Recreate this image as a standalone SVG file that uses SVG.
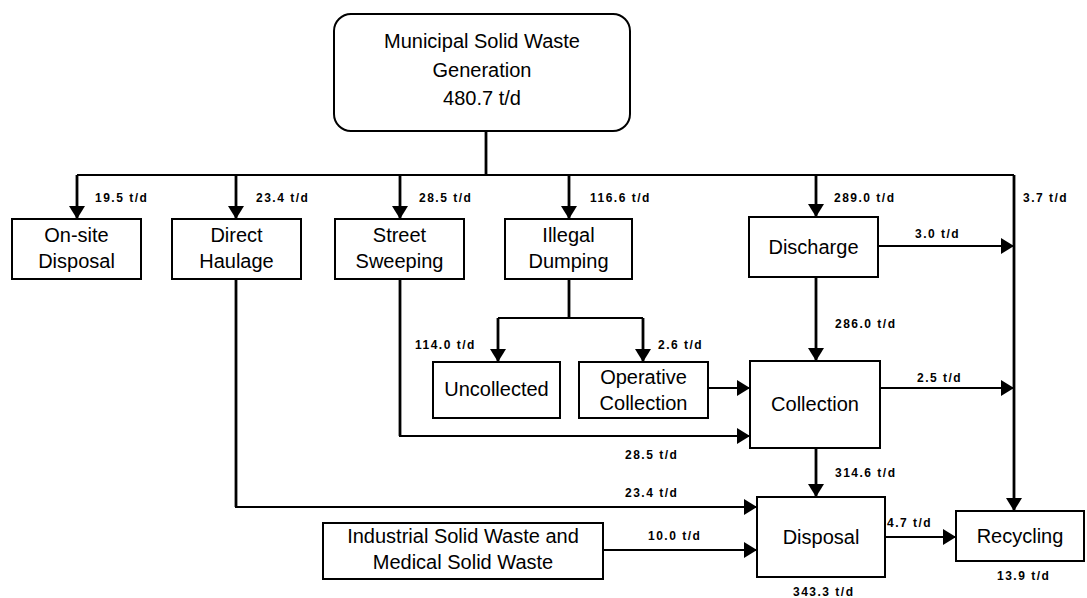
<svg xmlns="http://www.w3.org/2000/svg" width="1087" height="598" viewBox="0 0 1087 598">
<defs>
<marker id="ah" viewBox="0 0 13 16" refX="13" refY="8" markerWidth="13" markerHeight="16" markerUnits="userSpaceOnUse" orient="auto">
<path d="M0,0 L13,8 L0,16 z" fill="#000"/>
</marker>
<style>
.box{fill:#fff;stroke:#000;stroke-width:2}
.t{font-family:"Liberation Sans",Arial,Helvetica,sans-serif;font-size:20px;fill:#000;text-anchor:middle}
.lb{font-family:"Liberation Sans",Arial,Helvetica,sans-serif;font-size:12px;font-weight:bold;fill:#000;letter-spacing:1.5px}
.v{fill:none;stroke:#000;stroke-width:2.8}
.h{fill:none;stroke:#000;stroke-width:1.8}
.a{marker-end:url(#ah)}
</style>
</defs>
<rect width="1087" height="598" fill="#fff"/>

<g id="connectors">
<path class="v" d="M486,131 V175"/>
<path class="h" d="M77,175 H1014"/>
<path class="v a" d="M77,175 V219"/>
<path class="v a" d="M236,175 V219"/>
<path class="v a" d="M400,175 V219"/>
<path class="v a" d="M569,175 V219"/>
<path class="v a" d="M816,175 V217"/>
<path class="v a" d="M1014,175 V511"/>
<path class="h a" d="M878,246 H1014"/>
<path class="v a" d="M816,277 V361"/>
<path class="v" d="M569,279 V318"/>
<path class="h" d="M498,318 H643"/>
<path class="v a" d="M498,318 V362"/>
<path class="v a" d="M643,318 V362"/>
<path class="h a" d="M708,388 H750"/>
<path class="h a" d="M880,388 H1014"/>
<path class="v" d="M400,279 V436"/>
<path class="h a" d="M399,436 H750"/>
<path class="v a" d="M816,448 V497"/>
<path class="v" d="M236,279 V507"/>
<path class="h a" d="M235,507 H757"/>
<path class="h a" d="M603,550 H757"/>
<path class="h a" d="M885,537 H956"/>
</g>

<g id="labels">
<text class="lb" x="95" y="202">19.5 t/d</text>
<text class="lb" x="256" y="202">23.4 t/d</text>
<text class="lb" x="419" y="202">28.5 t/d</text>
<text class="lb" x="590" y="202">116.6 t/d</text>
<text class="lb" x="834" y="202">289.0 t/d</text>
<text class="lb" x="1023" y="202">3.7 t/d</text>
<text class="lb" x="915" y="238">3.0 t/d</text>
<text class="lb" x="835" y="328">286.0 t/d</text>
<text class="lb" x="415" y="349">114.0 t/d</text>
<text class="lb" x="658" y="349">2.6 t/d</text>
<text class="lb" x="917" y="382">2.5 t/d</text>
<text class="lb" x="625" y="459">28.5 t/d</text>
<text class="lb" x="835" y="477">314.6 t/d</text>
<text class="lb" x="625" y="497">23.4 t/d</text>
<text class="lb" x="648" y="540">10.0 t/d</text>
<text class="lb" x="887" y="527">4.7 t/d</text>
<text class="lb" x="793" y="596">343.3 t/d</text>
<text class="lb" x="997" y="580">13.9 t/d</text>
</g>

<g id="msw">
<rect class="box" x="334" y="14" width="296" height="117" rx="17" ry="17" stroke-width="2.5"/>
<text class="t" x="482" y="48">Municipal Solid Waste</text>
<text class="t" x="482" y="77">Generation</text>
<text class="t" x="482" y="105">480.7 t/d</text>
</g>

<g id="onsite">
<rect class="box" x="12" y="219" width="129" height="60"/>
<text class="t" x="76.5" y="242">On-site</text>
<text class="t" x="76.5" y="268">Disposal</text>
</g>

<g id="direct">
<rect class="box" x="172" y="219" width="129" height="60"/>
<text class="t" x="236.5" y="242">Direct</text>
<text class="t" x="236.5" y="268">Haulage</text>
</g>

<g id="street">
<rect class="box" x="335" y="219" width="129" height="60"/>
<text class="t" x="399.5" y="242">Street</text>
<text class="t" x="399.5" y="268">Sweeping</text>
</g>

<g id="illegal">
<rect class="box" x="505" y="219" width="127" height="60"/>
<text class="t" x="568.5" y="242">Illegal</text>
<text class="t" x="568.5" y="268">Dumping</text>
</g>

<g id="discharge">
<rect class="box" x="749" y="217" width="129" height="60"/>
<text class="t" x="813.5" y="254">Discharge</text>
</g>

<g id="uncollected">
<rect class="box" x="433" y="362" width="127" height="56"/>
<text class="t" x="496.5" y="396">Uncollected</text>
</g>

<g id="operative">
<rect class="box" x="579" y="362" width="129" height="56"/>
<text class="t" x="643.5" y="384">Operative</text>
<text class="t" x="643.5" y="410">Collection</text>
</g>

<g id="collection">
<rect class="box" x="750" y="361" width="130" height="87"/>
<text class="t" x="815" y="411">Collection</text>
</g>

<g id="industrial">
<rect class="box" x="323" y="523" width="280" height="56"/>
<text class="t" x="463" y="543">Industrial Solid Waste and</text>
<text class="t" x="463" y="569">Medical Solid Waste</text>
</g>

<g id="disposal">
<rect class="box" x="757" y="497" width="128" height="80"/>
<text class="t" x="821" y="544">Disposal</text>
</g>

<g id="recycling">
<rect class="box" x="956" y="511" width="128" height="50"/>
<text class="t" x="1020" y="543">Recycling</text>
</g>
</svg>
